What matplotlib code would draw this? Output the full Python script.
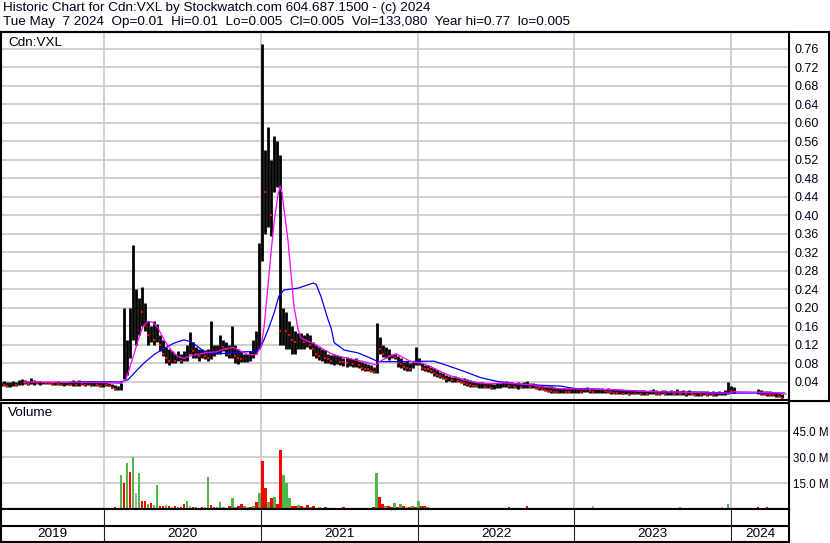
import numpy as np
import pandas as pd
import matplotlib
matplotlib.use("Agg")
import matplotlib.pyplot as plt
import matplotlib.dates as mdates
from matplotlib.lines import Line2D

plt.rcParams['font.family'] = ['Liberation Sans', 'DejaVu Sans']

nan = np.nan

# weekly bars (first bar week of 2019-05-06)
week0 = '2019-05-06'
highs = [
    .040, .042, .040, .038, .041, .040, .043, .045, .044, .042,
    .048, .044, .042, .041, .040, .040, .039, .039, .040, .041,
    .040, .039, .040, .041, .043, .042, .044, .041, .040, .041,
    .040, .039, .040, .039, .040, .038, .037, .035, .032, .030,
    .036, .200, .130, .200, .335, .240, .220, .245, .210, .170,
    .160, .170, .165, .140, .130, .115, .110, .105, .100, .105,
    .100, .105, .120, .148, .125, .115, .110, .110, .108, .110,
    .170, .120, .120, .140, .130, .125, .120, .160, .120, .110,
    .105, .100, .100, .105, .130, .150, .340, .770, .540, .590,
    .520, .570, .560, .530, .200, .190, .170, .160, .150, .145,
    .145, .140, .145, .140, .125, .120, .115, .110, .108, .100,
    .098, .100, .097, .095, .090, .092, .090, .088, .090, .085,
    .082, .080, .078, .075, .072, .166, .137, .120, .115, .110,
    .100, .100, .095, .090, .083, .085, .080, .083, .115, .090,
    .080, .076, .075, .072, .069, .065, .060, .058, .055, .052,
    .050, .052, .050, .048, .047, .045, .044, .042, .040, .040,
    .038, .037, .036, .036, .035, .036, .037, .040, .042, .040,
    .038, .036, .038, .036, .040, .042, .037, .036, .035, .033,
    .032, .030, .030, .030, .028, .027, .027, .026, .026, .025,
    .026, .025, .026, .025, .027, .028, .026, .025, .026, .025,
    .025, .024, .025, .024, .023, .022, .022, .021, .022, .021,
    .022, .021, .020, .021, .022, .020, .021, .024, .021, .020,
    .021, .022, .020, .021, .020, .023, .020, .021, .020, .021,
    .020, .019, .020, .019, .020, .019, .018, .019, .018, .019,
    .018, .022, .038, .030, .028, nan, nan, nan, nan, nan,
    nan, nan, .024, .022, .020, .020, .019, .018, .017, .016, .013]
lows = [
    .030, .030, .028, .029, .030, .031, .032, .033, .034, .032,
    .034, .033, .034, .033, .034, .035, .034, .033, .032, .033,
    .032, .031, .033, .032, .031, .030, .031, .032, .031, .032,
    .030, .031, .030, .028, .029, .030, .030, .025, .022, .022,
    .022, .045, .055, .090, .130, .120, .140, .160, .150, .120,
    .125, .120, .125, .105, .095, .080, .075, .080, .080, .085,
    .080, .085, .085, .100, .090, .090, .085, .090, .088, .085,
    .088, .095, .100, .100, .105, .095, .090, .090, .080, .077,
    .083, .083, .083, .085, .090, .100, .110, .300, .360, .375,
    .355, .450, .460, .120, .120, .110, .110, .100, .100, .110,
    .110, .110, .115, .110, .095, .090, .087, .085, .080, .080,
    .078, .076, .078, .076, .074, .072, .074, .072, .072, .070,
    .065, .062, .062, .060, .058, .058, .100, .094, .090, .087,
    .090, .088, .072, .070, .065, .063, .063, .070, .075, .075,
    .065, .062, .061, .058, .052, .050, .048, .045, .040, .042,
    .040, .040, .038, .036, .033, .030, .028, .028, .028, .026,
    .027, .025, .025, .024, .024, .025, .026, .028, .028, .027,
    .026, .025, .024, .025, .027, .026, .026, .025, .024, .022,
    .022, .020, .018, .016, .016, .015, .015, .016, .015, .015,
    .015, .016, .016, .016, .017, .017, .016, .015, .016, .016,
    .016, .015, .015, .014, .014, .013, .012, .012, .012, .011,
    .012, .012, .012, .011, .011, .011, .012, .012, .011, .011,
    .012, .011, .010, .011, .010, .011, .010, .010, .009, .010,
    .010, .009, .009, .009, .010, .009, .010, .009, .009, .010,
    .010, .011, .013, .015, .016, nan, nan, nan, nan, nan,
    nan, nan, .012, .010, .010, .009, .008, .008, .007, .007, .005]
closes = [
    .033, .032, .030, .031, .035, .032, .036, .040, .037, .035,
    .042, .038, .036, .036, .038, .037, .036, .035, .036, .034,
    .033, .034, .035, .033, .034, .032, .035, .034, .033, .036,
    .031, .034, .032, .030, .033, .032, .031, .027, .024, .025,
    .030, .080, .100, .140, .170, .190, .200, .190, .160, .140,
    .140, .130, .140, .120, .100, .090, .085, .090, .085, .090,
    .085, .095, .100, .115, .105, .100, .095, .100, .095, .090,
    .100, .105, .110, .120, .115, .110, .100, .110, .095, .090,
    .088, .088, .090, .095, .110, .130, .250, .500, .450, .500,
    .400, .480, .500, .150, .160, .150, .140, .130, .125, .125,
    .130, .125, .130, .120, .110, .100, .095, .095, .090, .088,
    .085, .085, .085, .083, .082, .080, .080, .078, .080, .075,
    .070, .068, .066, .063, .060, .120, .110, .100, .100, .095,
    .095, .093, .080, .078, .072, .070, .068, .075, .080, .080,
    .070, .068, .066, .063, .058, .055, .052, .048, .045, .045,
    .043, .044, .042, .040, .036, .034, .032, .031, .030, .030,
    .030, .028, .028, .027, .028, .029, .030, .032, .033, .030,
    .030, .028, .029, .028, .030, .032, .028, .028, .027, .025,
    .024, .022, .020, .019, .018, .017, .018, .019, .018, .017,
    .018, .019, .019, .018, .020, .021, .019, .018, .020, .020,
    .020, .019, .018, .017, .016, .015, .015, .014, .015, .014,
    .015, .014, .014, .013, .014, .013, .015, .016, .014, .013,
    .014, .013, .013, .014, .012, .014, .012, .013, .012, .013,
    .012, .011, .012, .011, .012, .011, .012, .011, .011, .012,
    .012, .014, .025, .020, .022, nan, nan, nan, nan, nan,
    nan, nan, .016, .014, .013, .012, .011, .010, .010, .009, .005]

# volume in millions, colour g=up r=down k=unchanged
volumes = [
    0.6, 0.5, 0.7, 0.4, 0.5, 0.6, 0.8, 0.5, 0.4, 0.6,
    0.5, 0.7, 0.4, 0.5, 0.6, 0.4, 0.5, 0.3, 0.5, 0.6,
    0.4, 0.5, 0.6, 0.4, 0.7, 0.5, 0.4, 0.6, 0.5, 0.4,
    0.5, 0.6, 0.4, 0.5, 0.3, 0.6, 0.5, 0.7, 0.9, 0.8,
    19.8, 15.0, 26.5, 21.3, 30.0, 9.5, 20.8, 4.4, 4.6, 3.0,
    3.2, 2.5, 13.6, 2.0, 1.8, 2.2, 1.5, 1.2, 1.6, 1.0,
    1.4, 3.0, 4.6, 1.5, 1.0, 1.2, 0.8, 1.0, 1.3, 18.7,
    2.5, 1.0, 1.2, 3.9, 1.0, 0.8, 1.5, 6.6, 1.2, 1.8,
    3.0, 1.5, 1.0, 1.4, 2.0, 4.0, 9.3, 27.7, 12.0, 4.0,
    6.3, 7.0, 3.0, 34.2, 19.8, 15.2, 6.3, 2.0, 1.5, 2.5,
    1.8, 1.2, 2.4, 1.0, 1.5, 0.8, 1.0, 0.7, 1.2, 0.8,
    0.6, 0.8, 0.5, 0.7, 0.9, 0.6, 0.8, 0.5, 0.6, 0.7,
    0.8, 0.6, 0.5, 0.7, 0.9, 20.8, 6.7, 3.0, 2.0, 1.5,
    1.0, 3.5, 1.2, 3.0, 1.5, 0.9, 1.0, 1.6, 1.2, 4.6,
    1.5, 1.8, 1.0, 0.8, 0.7, 0.6, 0.8, 0.5, 0.6, 0.7,
    0.5, 0.6, 0.4, 0.7, 0.5, 0.4, 0.6, 0.5, 0.4, 0.6,
    0.5, 0.4, 0.6, 0.3, 0.5, 0.4, 0.6, 0.8, 0.5, 1.0,
    0.5, 0.4, 0.6, 0.5, 0.7, 1.5, 0.5, 0.4, 0.6, 0.5,
    0.4, 0.5, 0.3, 0.4, 0.6, 0.5, 0.4, 0.3, 0.5, 0.4,
    0.5, 0.4, 0.6, 0.5, 0.8, 0.4, 0.5, 2.0, 0.5, 0.4,
    0.3, 0.5, 0.4, 0.3, 0.5, 0.4, 0.3, 0.4, 0.5, 0.3,
    0.4, 0.3, 0.5, 0.4, 0.3, 0.4, 0.5, 0.3, 0.4, 0.3,
    0.5, 0.4, 0.3, 0.4, 0.3, 0.5, 1.0, 0.4, 0.3, 0.4,
    0.3, 0.4, 0.3, 0.5, 0.4, 0.3, 0.4, 0.3, 0.5, 0.4,
    1.0, 0.5, 2.8, 0.8, 0.5, nan, nan, nan, nan, nan,
    nan, nan, 1.0, 0.4, 0.3, 1.2, 0.4, 0.3, 0.5, 0.4, 0.6]
vol_dirs = ("rkgrkgrrkg" "krgrkrgkrg" "rkrgrkkrgr" "krrgkrgrrr" "grgrgkgrrg"
            "rggrrgrkrg" "rrgkrgrrkg" "rrgggrrggr" "rgkrgrgrrg" "rgrrgggrrg"
            "rkrgrrkgrr" "grkrrgrkrr" "rgrkrgrrgr" "rgrgrkrgrg" "rrgkrrgrkr"
            "rkgrrkrgrr" "krgrrkrggr" "rkrrgrgrrk" "rrkrgrrkrr" "krrgkrrkrg"
            "rkrrkrgrrk" "rrkrgrrkrk" "rgrkrrgrkr" "krrgrkrrkr" "kggrrkkkkk"
            "kkrrkrrgrrr")

# moving averages (position in weeks from week0, value)
ma_short_wk = [7.7, 20.0, 33.3, 39.9, 41.6, 42.6, 44.3, 45.9, 47.3, 48.9, 50.6, 52.3,
               54.3, 56.6, 58.9, 60.9, 63.2, 66.6, 68.9, 71.6, 74.2, 77.2, 79.2, 82.2,
               84.9, 86.6, 87.6, 88.9, 89.9, 90.9, 92.2, 92.9, 93.5, 94.2, 95.5, 96.5,
               97.5, 98.9, 99.9, 101.9, 104.2, 107.5, 110.9, 115.5, 120.8, 124.8, 126.5,
               129.2, 131.5, 133.8, 136.5, 139.8, 143.1, 146.5, 149.8, 154.1, 158.8,
               163.1, 167.4, 172.1, 176.4, 180.8, 186.4, 190.7, 205.4, 216.4, 227.4,
               236.4, 242.7, 244.0, 252.0, 258.7, 261.3]
ma_short = [.039, .039, .038, .036, .045, .065, .100, .135, .160, .170, .168, .155,
            .130, .108, .094, .090, .096, .100, .103, .104, .110, .114, .108, .098,
            .098, .115, .160, .250, .320, .385, .445, .463, .450, .412, .347, .275,
            .203, .152, .134, .128, .122, .109, .097, .090, .083, .076, .085,
            .094, .100, .092, .083, .080, .072, .061, .052, .043, .037,
            .035, .037, .035, .033, .028, .024, .024, .022, .018, .017,
            .015, .015, .018, .017, .015, .013]
ma_long_wk = [25.6, 39.9, 42.3, 44.3, 47.6, 50.9, 54.3, 57.6, 60.9, 63.2, 65.6, 67.6,
              70.9, 75.6, 79.9, 84.9, 86.6, 88.9, 90.9, 92.5, 94.2, 98.9, 103.9, 104.9,
              106.5, 108.9, 109.9, 110.9, 113.2, 114.2, 118.8, 123.2, 125.5, 132.2,
              144.1, 148.8, 154.1, 159.8, 165.4, 172.1, 186.4, 190.7, 205.4, 216.4,
              236.4, 243.0, 260.7]
ma_long = [.040, .039, .044, .058, .080, .098, .112, .123, .130, .126, .115, .105,
           .100, .101, .104, .105, .116, .152, .188, .225, .238, .242, .253, .250,
           .224, .173, .155, .124, .113, .108, .102, .090, .083, .083,
           .084, .074, .062, .048, .040, .034, .030, .025, .021, .018,
           .016, .015, .015]

price_ticks = [.04, .08, .12, .16, .20, .24, .28, .32, .36, .40,
               .44, .48, .52, .56, .60, .64, .68, .72, .76]
vol_ticks = [15, 30, 45]
vol_labels = ['15.0 M', '30.0 M', '45.0 M']
year_starts = ['2020-01-01', '2021-01-01', '2022-01-01', '2023-01-01', '2024-01-01']
year_names = ['2019', '2020', '2021', '2022', '2023', '2024']
x_range = ('2019-05-06', '2024-05-15')

header1 = 'Historic Chart for Cdn:VXL by Stockwatch.com 604.687.1500 - (c) 2024'
header2 = ('Tue May  7 2024  Op=0.01  Hi=0.01  Lo=0.005  Cl=0.005  '
           'Vol=133,080  Year hi=0.77  lo=0.005')

# ---------------------------------------------------------------
W, H = 830, 543
fig = plt.figure(figsize=(W / 100, H / 100), dpi=100)


def box(top, bottom, left=1, right=789):
    return [left / W, 1 - bottom / H, (right - left) / W, (bottom - top) / H]


grid_c = '#C8C8C8'
txt_c = '#000018'
fs = 9
fs_head = 9.7

t = mdates.date2num(pd.date_range(week0, periods=len(highs), freq='7D'))
t0 = mdates.date2num(pd.Timestamp(week0))
xl = [mdates.date2num(pd.Timestamp(d)) for d in x_range]
ys = [mdates.date2num(pd.Timestamp(d)) for d in year_starts]

hi = np.array(highs)
lo = np.array(lows)
cl = np.array(closes)

# price panel
ax = fig.add_axes(box(32, 400))
ax.set_xlim(xl)
ax.set_ylim(0, 0.796)
ax.set_yticks(price_ticks)
ax.set_yticklabels(['%.2f' % v for v in price_ticks])
ax.set_xticks(ys)
ax.grid(True, color=grid_c, lw=1.2)
ax.set_axisbelow(True)
ax.yaxis.tick_right()
ax.tick_params(axis='y', length=0, pad=4, labelsize=fs, labelcolor=txt_c)
ax.tick_params(axis='x', length=0, labelbottom=False)
for s in ax.spines.values():
    s.set_color('k')
    s.set_linewidth(1.5)

ok = ~np.isnan(hi)
ax.vlines(t[ok], lo[ok], hi[ok], color='k', lw=2.0)
prev = np.r_[np.nan, cl[:-1]]
down = ok & (cl < prev)
ax.plot(t[down], cl[down], 's', color='red', ms=2.0, mew=0)
ax.plot(t0 + np.array(ma_long_wk) * 7, ma_long, color='#0000FF', lw=0.9)
ax.plot(t0 + np.array(ma_short_wk) * 7, ma_short, color='#FF00FF', lw=0.9)
fig.text(8 / W, 1 - 43 / H, 'Cdn:VXL', fontsize=fs_head, color=txt_c, va='center')

# volume panel
axv = fig.add_axes(box(403, 509))
axv.set_xlim(xl)
axv.set_ylim(0, 61.2)
axv.set_yticks(vol_ticks)
axv.set_yticklabels(vol_labels)
axv.set_xticks(ys)
axv.grid(True, color=grid_c, lw=1.2)
axv.set_axisbelow(True)
axv.yaxis.tick_right()
axv.tick_params(axis='y', length=0, pad=3, labelsize=8.4, labelcolor=txt_c)
axv.tick_params(axis='x', length=0, labelbottom=False)
for s in axv.spines.values():
    s.set_color('k')
    s.set_linewidth(1.5)
vcol = {'g': '#4DB848', 'r': '#FF0000', 'k': '#A8A8A8'}
vol = np.array(volumes)
vk = ~np.isnan(vol)
axv.bar(t[vk], vol[vk], width=5.5, color=[vcol[c] for c, m in zip(vol_dirs, vk) if m],
        linewidth=0)
fig.text(8 / W, 1 - 413 / H, 'Volume', fontsize=fs_head, color=txt_c, va='center')

# year strip
axb = fig.add_axes(box(509, 542))
axb.set_xlim(xl)
axb.set_ylim(0, 2)
axb.set_xticks([])
axb.set_yticks([])
for s in axb.spines.values():
    s.set_color('k')
    s.set_linewidth(1.5)
axb.axhline(1, color='k', lw=1.5)
for y0 in ys:
    axb.axvline(y0, color='#202020', lw=0.8)
edges = [xl[0]] + ys + [xl[1]]
for i, name in enumerate(year_names):
    axb.text((edges[i] + edges[i + 1]) / 2, 0.48, name, ha='center', va='center',
             fontsize=fs_head, color=txt_c)

# header and outer frame
fig.text(3 / W, 1 - 8.5 / H, header1, fontsize=fs_head, color=txt_c, va='center')
fig.text(3 / W, 1 - 22.5 / H, header2, fontsize=fs_head, color=txt_c, va='center')
fig.add_artist(Line2D([0, 1], [1 - 31.5 / H] * 2, color='k', lw=1.5))
fig.add_artist(Line2D([789 / W, 1], [1 - 401 / H] * 2, color='k', lw=1.5))
fig.add_artist(Line2D([829 / W] * 2, [1 - 31.5 / H, 1 - 401 / H], color='k', lw=1.5))

fig.savefig('out.png', dpi=100)
